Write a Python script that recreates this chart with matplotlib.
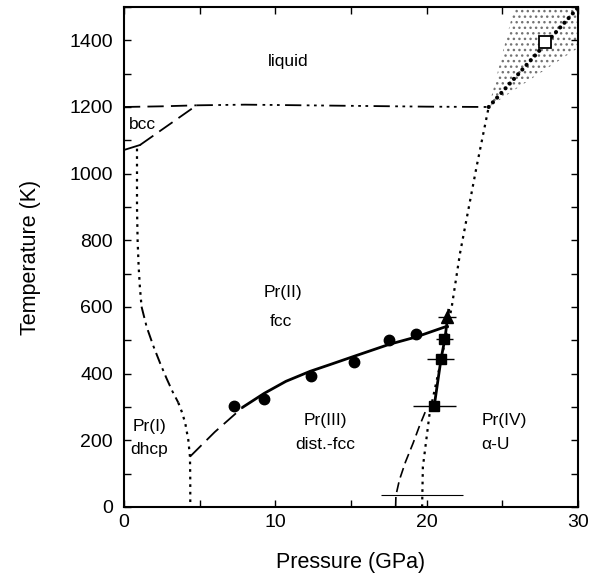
import matplotlib
matplotlib.use("Agg")
import matplotlib.pyplot as plt

plt.rcParams['font.family'] = ['Liberation Sans', 'DejaVu Sans']

# ---- data ----
# fcc -> distorted fcc transition (filled circles)
circ_P = [7.29, 9.27, 12.36, 15.22, 17.53, 19.3]
circ_T = [303, 324, 394, 436, 500, 518]
# distorted fcc -> alpha-U transition (filled squares) with pressure error
sq_P = [20.5, 20.93, 21.17]
sq_T = [303, 444, 503]
sq_err = [1.43, 0.9, 0.55]
# triangle point
tri_P = [21.33]
tri_T = [571]
tri_err = [0.6]
# low temperature error bar (no marker)
low_P = [19.7]
low_T = [35]
low_err = [2.7]
# open square (liquid region)
osq_P = [27.85]
osq_T = [1396]

# melting curve
melt_P_a = [0.0, 2.5, 4.8]
melt_T_a = [1200, 1202, 1205]
melt_P_b = [4.8, 8.0, 12.0, 16.0, 20.0, 24.1]
melt_T_b = [1205, 1207, 1205, 1203, 1201, 1200]
# bcc / fcc boundary
bcc_P_a = [0.0, 1.06]
bcc_T_a = [1071, 1086]
bcc_P_b = [1.06, 4.8]
bcc_T_b = [1086, 1205]
# dhcp / fcc boundary (three segments of line style)
dh_P_1 = [0.86, 0.86, 0.9, 0.97, 1.05, 1.16]
dh_T_1 = [1075, 900, 800, 720, 660, 601]
dh_P_2 = [1.16, 1.5, 1.94, 2.4, 2.82, 3.2, 3.59]
dh_T_2 = [601, 540, 483, 430, 385, 347, 313]
dh_P_3 = [3.59, 3.85, 4.05, 4.25, 4.36, 4.38, 4.38]
dh_T_3 = [313, 282, 251, 201, 151, 80, 0]
# dhcp / distorted fcc boundary (dashed)
dd_P = [4.36, 6.0, 7.87]
dd_T = [151, 225, 300]
# fcc / distorted fcc boundary (solid)
fd_P = [7.87, 9.27, 10.7, 12.3, 13.6, 15.2, 17.53, 19.3, 21.2]
fd_T = [300, 341, 377, 407, 427, 452, 488, 510, 540]
# distorted fcc / alpha-U (solid through squares)
da_P = [20.5, 20.95, 21.2, 21.45]
da_T = [303, 444, 503, 590]
# dotted boundary up to melting
db_P = [19.7, 19.75, 20.2, 21.0, 21.66, 22.2, 23.3, 24.1]
db_T = [0, 120, 282, 450, 601, 760, 1021, 1200]
# low-T dashed boundary
ld_P = [17.95, 17.97, 18.2, 18.6, 19.1, 19.5, 19.95]
ld_T = [0, 35, 81, 135, 191, 240, 290]
# large dotted extrapolated melting line
big_P = [24.1, 30.0]
big_T = [1200, 1498]
# stippled uncertainty region
st_P = [24.1, 25.8, 30.0, 30.0]
st_T = [1200, 1500, 1500, 1377]

fig = plt.figure(figsize=(5.89, 5.73), dpi=100)
ax = fig.add_axes([0.2105, 0.1152, 0.7708, 0.8726])

ax.fill(st_P, st_T, facecolor='none', edgecolor='0.45', hatch='...', lw=0)

k = 'black'
ax.plot(melt_P_a, melt_T_a, color=k, lw=1.3, dashes=(9, 4))
ax.plot(melt_P_b, melt_T_b, color=k, lw=1.3, dashes=(9, 3, 1.5, 2.5, 1.5, 2.5, 1.5, 3))
ax.plot(bcc_P_a, bcc_T_a, color=k, lw=1.3)
ax.plot(bcc_P_b, bcc_T_b, color=k, lw=1.3, dashes=(9, 4))
ax.plot(dh_P_1, dh_T_1, color=k, lw=1.6, dashes=(1.2, 2.2))
ax.plot(dh_P_2, dh_T_2, color=k, lw=1.4, dashes=(6, 2.5, 1.5, 2.5))
ax.plot(dh_P_3, dh_T_3, color=k, lw=1.6, dashes=(1.2, 2.2))
ax.plot(dd_P, dd_T, color=k, lw=1.3, dashes=(9, 4))
ax.plot(fd_P, fd_T, color=k, lw=2.0)
ax.plot(da_P, da_T, color=k, lw=2.0)
ax.plot(db_P, db_T, color=k, lw=1.6, dashes=(1.2, 2.2))
ax.plot(ld_P, ld_T, color=k, lw=1.2, dashes=(6, 3))
ax.plot(big_P, big_T, color=k, lw=3.0, dashes=(0.01, 1.5), dash_capstyle='round')

ax.plot(circ_P, circ_T, 'o', color=k, ms=7.5)
ax.errorbar(sq_P, sq_T, xerr=sq_err, fmt='s', color=k, ms=6.5, elinewidth=1.0, capsize=0)
ax.errorbar(tri_P, tri_T, xerr=tri_err, fmt='^', color=k, ms=8, elinewidth=1.0, capsize=0)
ax.errorbar(low_P, low_T, xerr=low_err, fmt='none', ecolor=k, elinewidth=0.8, capsize=0)
ax.plot(osq_P, osq_T, 's', mfc='white', mec=k, mew=1.3, ms=9)

fs = 12.5
ax.text(10.85, 1336, 'liquid', fontsize=fs, ha='center', va='center')
ax.text(1.2, 1146, 'bcc', fontsize=fs, ha='center', va='center')
ax.text(10.5, 642, 'Pr(II)', fontsize=fs, ha='center', va='center')
ax.text(10.4, 556, 'fcc', fontsize=fs, ha='center', va='center')
ax.text(1.7, 241, 'Pr(I)', fontsize=fs, ha='center', va='center')
ax.text(1.65, 171, 'dhcp', fontsize=fs, ha='center', va='center')
ax.text(13.3, 258, 'Pr(III)', fontsize=fs, ha='center', va='center')
ax.text(13.3, 186, 'dist.-fcc', fontsize=fs, ha='center', va='center')
ax.text(23.64, 258, 'Pr(IV)', fontsize=fs, ha='left', va='center')
ax.text(23.64, 186, 'α-U', fontsize=fs, ha='left', va='center')

ax.set_xlim(0, 30)
ax.set_ylim(0, 1500)
ax.set_xticks([0, 10, 20, 30])
ax.set_xticks([5, 15, 25], minor=True)
ax.set_yticks([0, 200, 400, 600, 800, 1000, 1200, 1400])
ax.set_yticks([100, 300, 500, 700, 900, 1100, 1300, 1500], minor=True)
ax.tick_params(which='both', direction='in', top=True, right=True, length=5, width=1.0,
               labelsize=14)
ax.tick_params(axis='x', pad=5)
ax.tick_params(axis='y', pad=8)
for s in ax.spines.values():
    s.set_linewidth(1.5)
ax.set_xlabel('Pressure (GPa)', fontsize=15.5, labelpad=15)
ax.set_ylabel('Temperature (K)', fontsize=15.5, labelpad=20)

fig.savefig('out.png', dpi=100)
